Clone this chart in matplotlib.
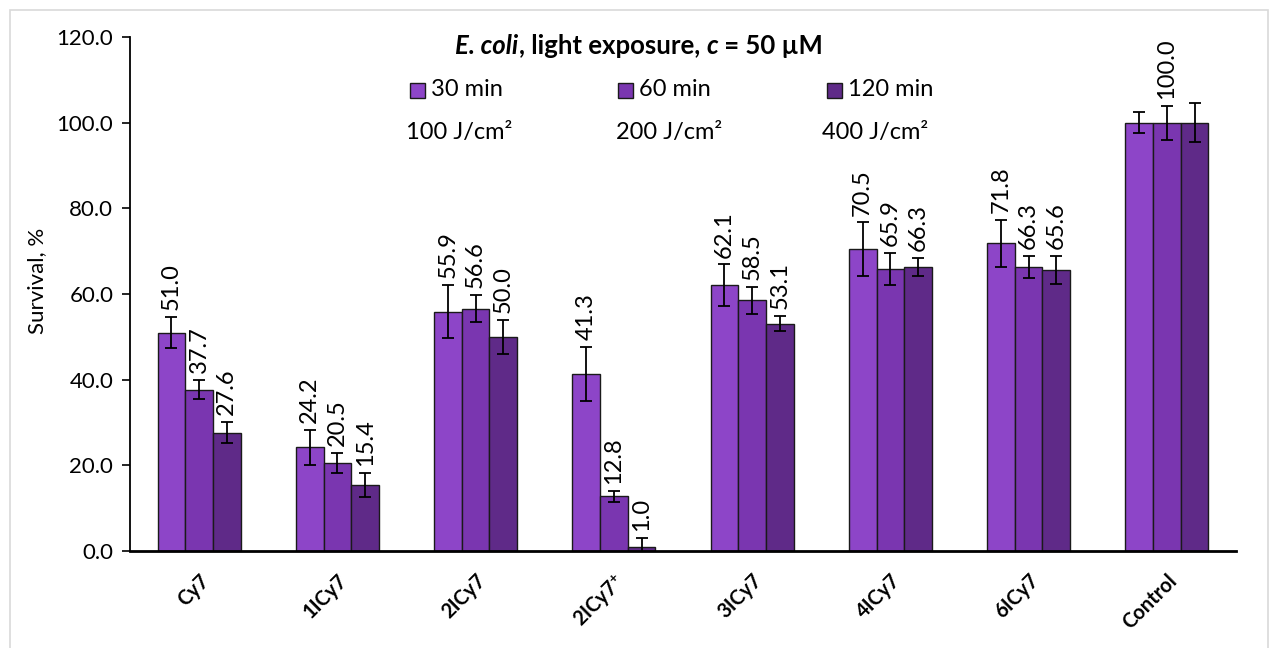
import matplotlib
matplotlib.use("Agg")
import matplotlib.pyplot as plt
from matplotlib.patches import Rectangle
import numpy as np

plt.rcParams['font.family'] = ['Lato', 'DejaVu Sans']
plt.rcParams['mathtext.fontset'] = 'custom'
plt.rcParams['mathtext.rm'] = 'Lato'
plt.rcParams['mathtext.bf'] = 'Lato:bold'
plt.rcParams['mathtext.it'] = 'Lato:italic'

# ---- data ----
categories = ["Cy7", "1ICy7", "2ICy7", r"2ICy7$^{\mathbf{+}}$", "3ICy7", "4ICy7", "6ICy7", "Control"]
series_names = ["30 min", "60 min", "120 min"]
doses = ["100 J/cm\u00b2", "200 J/cm\u00b2", "400 J/cm\u00b2"]
survival_30 = [51.0, 24.2, 55.9, 41.3, 62.1, 70.5, 71.8, 100.0]
survival_60 = [37.7, 20.5, 56.6, 12.8, 58.5, 65.9, 66.3, 100.0]
survival_120 = [27.6, 15.4, 50.0, 1.0, 53.1, 66.3, 65.6, 100.0]
error_30 = [3.7, 4.1, 6.2, 6.3, 4.8, 6.2, 5.5, 2.4]
error_60 = [2.3, 2.4, 3.1, 1.3, 3.2, 3.7, 2.6, 4.0]
error_120 = [2.5, 2.9, 4.0, 2.0, 1.75, 2.1, 3.2, 4.5]
# (category, series) pairs whose value label is left off
hidden_labels = {(7, 0), (7, 2)}

colors = ["#8D45C8", "#7A36B0", "#5F2A88"]
values = [survival_30, survival_60, survival_120]
errors = [error_30, error_60, error_120]

W, H = 1278, 648
fig = plt.figure(figsize=(W / 100, H / 100), dpi=100)
ax = fig.add_axes([130 / W, 1 - 551 / H, (1236 - 130) / W, (551 - 37) / H])

x = np.arange(len(categories))
bw = 0.2
for i, (vals, errs, col) in enumerate(zip(values, errors, colors)):
    xs = x + (i - 1) * bw
    ax.bar(xs, vals, width=bw, color=col, edgecolor="#1a1a1a", linewidth=1.0, zorder=2)
    ax.errorbar(xs, vals, yerr=errs, fmt="none", ecolor="black", elinewidth=1.3,
                capsize=4, capthick=1.3, zorder=3)
    for j, (xv, v, e) in enumerate(zip(xs, vals, errs)):
        if (j, i) in hidden_labels:
            continue
        ax.annotate(f"{v:.1f}", xy=(xv, v + e), xytext=(0, 5), textcoords="offset points",
                    rotation=90, ha="center", va="bottom", fontsize=17, color="black")

ax.set_xlim(-0.5, len(categories) - 0.5)
ax.set_ylim(0, 120)
ax.set_yticks(np.arange(0, 121, 20))
ax.set_yticklabels([f"{t:.1f}" for t in np.arange(0, 121, 20)], fontsize=16)
ax.set_xticks(x)
ax.set_xticklabels(categories, rotation=45, ha="right", va="top",
                   rotation_mode="anchor", fontsize=14.5, fontweight="bold")
ax.tick_params(axis="x", length=0, pad=14)
ax.tick_params(axis="y", length=6, width=1.2, direction="out", pad=6)
for s in ["top", "right"]:
    ax.spines[s].set_visible(False)
ax.spines["left"].set_linewidth(1.3)
ax.spines["bottom"].set_linewidth(2.0)
ax.set_ylabel("Survival, %", fontsize=16)
ax.yaxis.set_label_coords(-0.075, 0.525)

# ---- title with italic pieces ----
pieces = [("E. coli", "italic"), (", light exposure, ", "normal"), ("c", "italic"), (" = 50 \u00b5M", "normal")]
renderer = fig.canvas.get_renderer()
texts = [fig.text(0, 0, txt, fontsize=18.5, fontweight="bold", style=style,
                  ha="left", va="baseline") for txt, style in pieces]
# lay out pieces on a common baseline centred on the figure
widths = [t.get_window_extent(renderer).width for t in texts]
xpos = W / 2 - sum(widths) / 2
base_y = 1 - 54 / H
for t, w in zip(texts, widths):
    t.set_position((xpos / W, base_y))
    xpos += w

# ---- legend and light-dose row ----
entry_left = [410, 618, 827]
dose_left = [406, 616, 822]
sq = 15
for name, col, dose, xl, xd in zip(series_names, colors, doses, entry_left, dose_left):
    fig.patches.append(Rectangle((xl / W, 1 - (90 + sq / 2) / H), sq / W, sq / H,
                                 transform=fig.transFigure, facecolor=col,
                                 edgecolor="#1a1a1a", linewidth=1.0))
    fig.text((xl + sq + 6) / W, 1 - 90 / H, name, fontsize=17, ha="left", va="center")
    fig.text(xd / W, 1 - 133 / H, dose, fontsize=17, ha="left", va="center")

# chart area border
fig.patches.append(Rectangle((10 / W, -0.05), (1268 - 10) / W, 1 - 10 / H + 0.05,
                             transform=fig.transFigure, fill=False,
                             edgecolor="#D9D9D9", linewidth=1.2))

fig.savefig("out.png", dpi=100)
